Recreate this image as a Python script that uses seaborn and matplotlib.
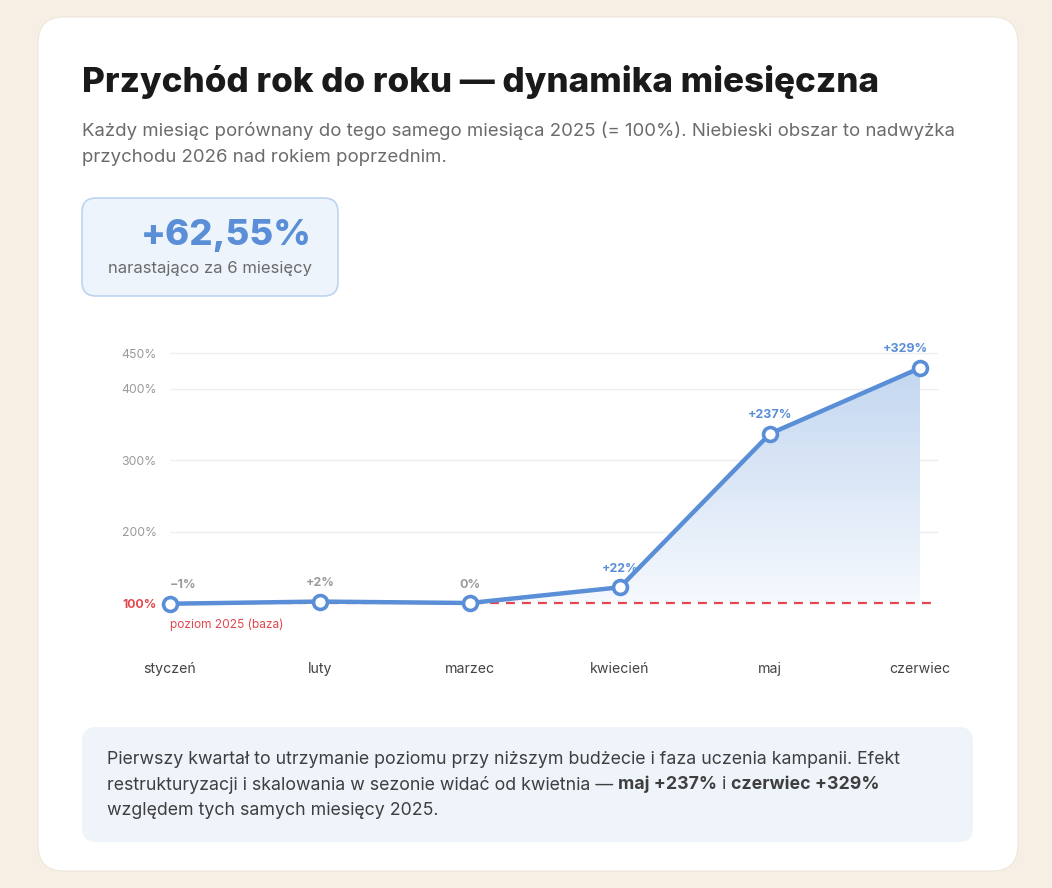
import numpy as np
import pandas as pd
import matplotlib.pyplot as plt
import seaborn as sns
from matplotlib.patches import FancyBboxPatch
from matplotlib.colors import LinearSegmentedColormap

# --- data ---
months = ['styczeń', 'luty', 'marzec', 'kwiecień', 'maj', 'czerwiec']
index_2026 = [99, 102, 100, 122, 337, 429]          # % of same month 2025
change_labels = ['−1%', '+2%', '0%', '+22%', '+237%', '+329%']
y_ticks = [100, 200, 300, 400, 450]
y_tick_labels = ['100%', '200%', '300%', '400%', '450%']
kpi_value = '+62,55%'
kpi_caption = 'narastająco za 6 miesięcy'

df = pd.DataFrame({'month': months, 'pos': range(len(months)), 'value': index_2026,
                   'label': change_labels})

sns.set_theme(style='white')
FONT = 'Inter'
plt.rcParams['font.family'] = [FONT, 'DejaVu Sans']

BLUE = '#5A8ED6'
RED = '#E2474E'
GREY = '#9A9A9A'
W, H = 1052, 888

fig = plt.figure(figsize=(W / 100, H / 100), dpi=100)
fig.patch.set_facecolor('#F7EFE4')


def fx(px):
    return px / W


def fy(py):
    return 1 - py / H


def rbox(x0, y0, x1, y1, r, fc, ec='none', lw=0, z=-1):
    p = FancyBboxPatch((fx(x0), fy(y1)), fx(x1 - x0), (y1 - y0) / H,
                       boxstyle=f'round,pad=0,rounding_size={r / W}',
                       transform=fig.transFigure, fc=fc, ec=ec, lw=lw, zorder=z,
                       mutation_aspect=W / H)
    fig.patches.append(p)


# card + boxes (kept below the axes)
rbox(38, 17, 1018, 871, 26, 'white', ec='#EDE6DC', lw=0.8, z=-3)
rbox(82, 198, 338, 296, 14, '#EEF4FB', ec='#BCD4F0', lw=1.2, z=-2)
rbox(82, 727, 973, 842, 14, '#EFF4FB', z=-2)

# header
fig.text(fx(82), fy(82), 'Przychód rok do roku — dynamika miesięczna', fontsize=25.2,
         fontweight='heavy', color='#1A1A1A', va='center', ha='left')
fig.text(fx(82), fy(131), 'Każdy miesiąc porównany do tego samego miesiąca 2025 (= 100%). '
         'Niebieski obszar to nadwyżka', fontsize=13.4, color='#6B6B6B', va='center')
fig.text(fx(82), fy(157), 'przychodu 2026 nad rokiem poprzednim.', fontsize=13.4,
         color='#6B6B6B', va='center')

# KPI
fig.text(fx(312), fy(235), kpi_value, fontsize=26.3, fontweight='heavy', color=BLUE,
         ha='right', va='center')
fig.text(fx(312), fy(268), kpi_caption, fontsize=12, color='#6B6B6B', ha='right',
         va='center')

# --- chart ---
x_left, x_right = -5 / 150, 770 / 150
y_bot, y_top = 40, 480
ppu = 250 / 350
ax_l, ax_r = 165, 940
ax_b = 603 + (100 - y_bot) * ppu
ax_t = 353 - (y_top - 450) * ppu
ax = fig.add_axes([fx(ax_l), fy(ax_b), fx(ax_r - ax_l), (ax_b - ax_t) / H])
ax.set_facecolor('none')
for s in ax.spines.values():
    s.set_visible(False)

grid_end = 768 / 150
ax.hlines([t for t in y_ticks if t != 100], 0, grid_end, color='#EFEFEF', lw=1, zorder=1)
ax.hlines(100, 0, grid_end, color=RED, lw=1.6, ls=(0, (4, 3.2)), zorder=2)

# gradient area between line and baseline
poly = ax.fill_between(df['pos'], df['value'], 100, color='none', lw=0)
grad = LinearSegmentedColormap.from_list('g', ['#F6F9FE', '#C3D7F0'])
img = ax.imshow(np.linspace(0, 1, 256).reshape(-1, 1), cmap=grad, aspect='auto',
                origin='lower', extent=[0, 5, 100, max(index_2026)], zorder=1.5)
img.set_clip_path(poly.get_paths()[0], transform=ax.transData)

sns.lineplot(data=df, x='pos', y='value', ax=ax, color=BLUE, lw=3.2, marker='o',
             markersize=10, markerfacecolor='white', markeredgecolor=BLUE,
             markeredgewidth=2.6, zorder=4, clip_on=False)
ax.set_xlim(x_left, x_right)
ax.set_ylim(y_bot, y_top)

last = len(df) - 1
for _, r in df.iterrows():
    c = BLUE if r['pos'] >= 3 else GREY
    ha, dx = 'center', 0
    if r['pos'] == 0:
        ha = 'left'
    elif r['pos'] == last:
        ha, dx = 'right', 6
    ax.annotate(r['label'], (r['pos'], r['value']), xytext=(dx, 9),
                textcoords='offset points', ha=ha, va='bottom', fontsize=9,
                fontweight='bold', color=c)

ax.annotate('poziom 2025 (baza)', (0, 100), xytext=(0, -11), textcoords='offset points',
            fontsize=8.6, color=RED, ha='left', va='top')

ax.set_xticks(df['pos'])
ax.set_xticklabels(months, fontsize=10.2, color='#444444')
ax.set_yticks(y_ticks)
ax.set_yticklabels(y_tick_labels, fontsize=8.8, color=GREY)
ax.get_yticklabels()[0].set_color(RED)
ax.get_yticklabels()[0].set_fontweight('bold')
ax.tick_params(axis='x', length=0, pad=11.5)
ax.tick_params(axis='y', length=0, pad=6)
ax.set_xlabel('')
ax.set_ylabel('')

# --- note box with bold runs ---
note = [
    [('Pierwszy kwartał to utrzymanie poziomu przy niższym budżecie i faza uczenia '
      'kampanii. Efekt', 'normal')],
    [('restrukturyzacji i skalowania w sezonie widać od kwietnia — ', 'normal'),
     ('maj +237%', 'bold'), (' i ', 'normal'), ('czerwiec +329%', 'bold')],
    [('względem tych samych miesięcy 2025.', 'normal')],
]
fig.canvas.draw()
rend = fig.canvas.get_renderer()
for i, line in enumerate(note):
    x = fx(107)
    for txt, wt in line:
        t = fig.text(x, fy(759 + 25.5 * i), txt, fontsize=12.8, fontweight=wt,
                     color='#3F3F3F', va='center', ha='left')
        bb = t.get_window_extent(renderer=rend)
        x += bb.width / W

fig.savefig('out.png', dpi=100, facecolor=fig.get_facecolor())
